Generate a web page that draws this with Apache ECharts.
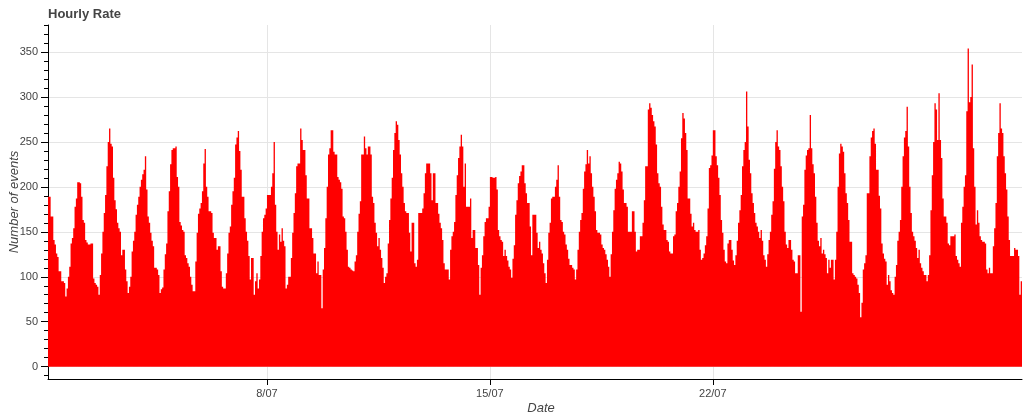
<!DOCTYPE html>
<html>
<head>
<meta charset="utf-8">
<script src="https://cdn.jsdelivr.net/npm/echarts@6/dist/echarts.min.js"></script>
<style>
  html, body { margin: 0; padding: 0; background: #fff; }
  #chart { width: 1024px; height: 416px; }
</style>
</head>
<body>
<div id="chart"></div>
<script>
// Hourly event counts, one array per day of July (first bar is 1/07 03:00)
const firstHour = 3;
const jul01 = [189,189,167,167,141,136,126,122,106,106,95,95,93,78,87,100,111,137,143,154,178];
const jul02 = [187,205,205,204,189,163,160,141,138,136,136,137,137,98,93,91,89,80,102,126,150,171,191,223];
const jul03 = [250,265,248,245,210,185,175,160,154,150,124,130,130,108,95,82,89,100,128,140,150,169,180,189];
const jul04 = [200,208,214,219,234,197,167,160,149,140,134,110,110,108,102,82,86,88,108,125,137,173,195,225];
const jul05 = [241,243,243,245,211,200,161,157,152,150,124,121,115,111,100,91,84,84,117,149,170,176,182,195];
const jul06 = [226,242,200,189,173,173,171,149,143,143,130,134,134,106,89,87,87,104,126,149,156,180,195,210];
const jul07 = [247,255,262,240,219,189,189,165,150,140,123,97,121,121,80,95,104,87,97,123,150,165,169,176];
const jul08 = [191,191,191,200,215,250,180,150,130,147,139,154,140,134,87,91,100,100,121,149,171,193,223,226];
const jul09 = [226,265,252,241,241,213,187,187,154,154,143,126,126,104,117,102,102,65,108,132,165,200,236,243];
const jul10 = [263,263,239,236,236,211,208,205,198,167,165,150,130,111,110,108,107,106,117,124,150,170,184,236];
const jul11 = [236,256,243,236,245,245,236,189,182,160,149,134,143,130,121,110,93,100,104,137,163,187,210,241];
const jul12 = [260,273,269,252,236,215,200,182,173,171,171,149,128,160,160,115,111,119,171,171,171,176,193,215];
const jul13 = [226,226,226,215,185,215,215,182,182,170,160,154,141,115,108,108,108,97,130,145,150,161,191,213];
const jul14 = [232,245,258,245,200,226,178,178,178,187,143,152,152,132,132,113,80,110,124,145,161,165,165,178];
const jul15 = [211,211,210,210,211,197,152,145,141,139,123,130,123,118,111,108,99,120,135,169,185,204,212,217];
const jul16 = [224,224,204,193,182,182,156,124,169,169,169,149,132,139,130,126,115,104,93,119,149,160,187,189];
const jul17 = [189,200,208,224,189,163,161,150,147,136,130,120,113,113,110,108,97,108,130,150,163,171,198,217];
const jul18 = [225,241,226,234,215,200,189,173,152,149,149,147,136,132,130,125,119,111,100,125,150,174,198,208];
const jul19 = [215,228,226,217,197,182,182,178,150,150,150,173,173,150,128,130,130,145,145,160,185,223,223,286];
const jul20 = [293,288,280,273,267,247,215,204,200,178,158,152,152,141,139,128,126,126,145,147,173,182,200,217];
const jul21 = [254,282,276,260,241,187,187,170,156,160,152,150,150,152,130,119,121,126,135,145,176,221,224,235];
const jul22 = [263,263,234,224,210,191,163,149,130,117,115,137,141,141,130,118,113,124,140,160,174,191,223,241];
const jul23 = [250,306,267,230,215,193,182,171,160,156,150,143,152,140,124,119,111,125,141,150,169,184,220,250];
const jul24 = [263,245,241,223,200,184,150,136,132,141,141,130,119,117,104,104,124,124,61,167,180,219,235,241];
const jul25 = [243,280,243,225,215,189,160,140,134,143,126,130,125,121,104,119,110,119,119,97,119,150,200,237];
const jul26 = [248,245,239,215,193,182,163,139,139,104,102,100,98,91,82,55,71,108,115,124,193,193,234,255];
const jul27 = [262,265,248,219,219,190,176,137,126,120,117,91,102,95,85,82,80,100,113,140,150,163,200,234];
const jul28 = [255,262,289,245,200,171,150,145,140,132,121,130,115,110,106,102,102,95,102,124,174,213,250,293];
const jul29 = [286,252,304,252,232,187,167,167,160,137,135,145,145,145,147,123,119,115,111,160,178,200,213,284];
const jul30 = [354,294,300,336,243,200,158,174,160,145,141,139,139,137,108,104,110,104,104,134,154,182,234,260];
const jul31 = [293,265,260,234,215,197,167,141,123,123,123,132,130,130,123,80,95];

const tickDays = [8, 15, 22];
const tickLabels = ['8/07', '15/07', '22/07'];
const yTicks = [0, 50, 100, 150, 200, 250, 300, 350];

const days = [jul01,jul02,jul03,jul04,jul05,jul06,jul07,jul08,jul09,jul10,jul11,jul12,jul13,jul14,jul15,jul16,
  jul17,jul18,jul19,jul20,jul21,jul22,jul23,jul24,jul25,jul26,jul27,jul28,jul29,jul30,jul31];
const values = [].concat(...days);
const seriesData = values.map((v, i) => [i + 0.5, v]);
const tickPos = tickDays.map(d => (d - 1) * 24 - firstHour);
const yMinor = [];
for (let v = -10; v <= 380; v += 10) if (v % 50 !== 0) yMinor.push(v);

const FONT = '"Liberation Sans", Arial, Helvetica, sans-serif';
const chart = echarts.init(document.getElementById('chart'), null, { renderer: 'canvas' });
chart.setOption({
  animation: false,
  backgroundColor: '#ffffff',
  title: {
    text: 'Hourly Rate', left: 48, top: 8, padding: 0,
    textStyle: { fontFamily: FONT, fontSize: 13, fontWeight: 'bold', color: '#444444' }
  },
  grid: { left: 48, right: 2, top: 25, bottom: 37, containLabel: false, outerBoundsMode: 'none' },
  xAxis: {
    type: 'value', min: 0, max: values.length,
    name: 'Date', nameLocation: 'middle', nameGap: 23, nameMoveOverlap: false,
    nameTextStyle: { fontFamily: FONT, fontSize: 13, fontStyle: 'italic', color: '#444444', padding: [0, 0, 0, 12] },
    axisLine: { show: true, onZero: false, lineStyle: { color: '#000000', width: 1 } },
    axisTick: { show: true, customValues: tickPos, length: 6, lineStyle: { color: '#000000' } },
    axisLabel: {
      customValues: tickPos, margin: 9, fontFamily: FONT, fontSize: 11, color: '#444444',
      formatter: (v) => tickLabels[tickPos.indexOf(Math.round(v))] || ''
    },
    splitLine: { show: true, lineStyle: { color: '#e5e5e5', width: 1 } }
  },
  yAxis: [{
    type: 'value', min: -13.7, max: 380,
    name: 'Number of events', nameLocation: 'middle', nameGap: 27, nameRotate: 90, nameMoveOverlap: false,
    nameTextStyle: { fontFamily: FONT, fontSize: 13, fontStyle: 'italic', color: '#444444' },
    axisLine: { show: true, onZero: false, lineStyle: { color: '#000000', width: 1 } },
    axisTick: { show: true, customValues: yTicks, length: 7, lineStyle: { color: '#000000' } },
    axisLabel: { customValues: yTicks, margin: 10, fontFamily: FONT, fontSize: 11, color: '#444444' },
    splitLine: { show: true, lineStyle: { color: '#e5e5e5', width: 1 } }
  }, {
    type: 'value', min: -13.7, max: 380, position: 'left',
    axisLine: { show: false },
    axisTick: { show: true, customValues: yMinor, length: 4, lineStyle: { color: '#000000' } },
    axisLabel: { show: false },
    splitLine: { show: false }
  }],
  series: [{
    type: 'bar', yAxisIndex: 0, data: seriesData,
    barWidth: '100%',
    large: true, largeThreshold: 100,
    itemStyle: { color: '#ff0000', borderWidth: 0 },
    silent: true
  }]
});
</script>
</body>
</html>
